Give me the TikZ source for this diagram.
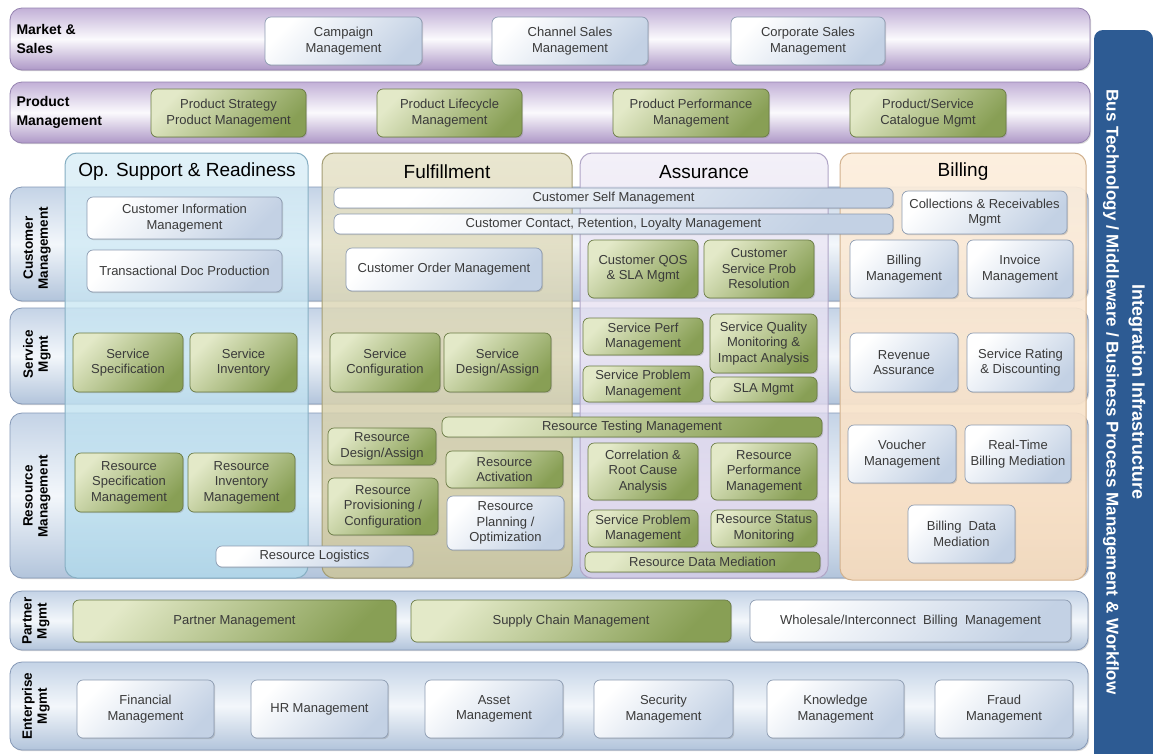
\documentclass[tikz,border=0pt]{standalone}
\usepackage{fontspec}
\setmainfont{Liberation Sans}
\usetikzlibrary{shadows}
\definecolor{txt}{HTML}{3A3A3A}
\definecolor{gL}{HTML}{E3E9C8}
\definecolor{gD}{HTML}{889F55}
\definecolor{gB}{HTML}{6A7B44}
\definecolor{lD}{HTML}{C3D1E4}
\definecolor{lB}{HTML}{8C9BB1}
\definecolor{pT}{HTML}{C2B0D7}
\definecolor{pM}{HTML}{FBFAFD}
\definecolor{pBo}{HTML}{AE98C7}
\definecolor{pB}{HTML}{9583B0}
\definecolor{bT}{HTML}{C4D3E6}
\definecolor{bM}{HTML}{F3F7FB}
\definecolor{bBo}{HTML}{B2C4DB}
\definecolor{bB}{HTML}{8598B6}
\definecolor{opsT}{HTML}{D8EEF7}
\definecolor{opsB}{HTML}{B1DAEC}
\definecolor{opsD}{HTML}{87AFC3}
\definecolor{fulT}{HTML}{E6E2C8}
\definecolor{fulB}{HTML}{CCC59B}
\definecolor{fulD}{HTML}{A39D75}
\definecolor{assT}{HTML}{F0ECF7}
\definecolor{assB}{HTML}{D8CEE9}
\definecolor{assD}{HTML}{B0A5C6}
\definecolor{bilT}{HTML}{FCEEDD}
\definecolor{bilB}{HTML}{F6DBBD}
\definecolor{bilD}{HTML}{D2B28F}
\definecolor{barC}{HTML}{2D5B93}
\newcommand\bx[7]{%
  \node[#6, minimum width={(#4-#2)*1pt}, minimum height={(#5-#3)*1pt}] (#1) at ({(#2+#4)/2},{(#3+#5)/2}) {#7};}
\tikzset{
  shd/.style={drop shadow={opacity=0.3, shadow xshift=1.2pt, shadow yshift=-1.2pt}},
  bxs/.style={rounded corners=6pt, inner sep=1pt, outer sep=0pt, align=center, text=txt,
    font=\fontsize{13}{15.5}\selectfont, line width=0.7pt, shd},
  grn/.style={bxs, draw=gB, top color=gL, bottom color=gD, shading angle=45},
  lt/.style={bxs, draw=lB, top color=white, bottom color=lD, shading angle=45},
  purband/.style={rounded corners=12pt, inner sep=0pt, outer sep=0pt, draw=pB, line width=0.8pt,
    top color=pT, bottom color=pBo, middle color=pM, shd},
  bluband/.style={rounded corners=12pt, inner sep=0pt, outer sep=0pt, draw=bB, line width=0.8pt,
    top color=bT, bottom color=bBo, middle color=bM, shd},
  colbox/.style={rounded corners=12pt, inner sep=0pt, outer sep=0pt, line width=1pt, fill opacity=0.78},
  hdr/.style={font=\fontsize{19}{22}\selectfont, text=black},
  lab/.style={font=\fontsize{13.5}{15}\selectfont\bfseries, align=center, text=black},
  labl/.style={font=\fontsize{14}{19}\selectfont\bfseries, align=left, anchor=west, text=black},
}
\begin{document}
\begin{tikzpicture}[x=1pt,y=-1pt]
\useasboundingbox (0,0) rectangle (1153,753);
\fill[white] (0,0) rectangle (1153,753);
% top bands
\bx{msB}{10}{8}{1090}{70}{purband}{}
\bx{pmB}{10}{82}{1090}{143}{purband}{}
\node[labl] (msl) at (13,39) {Market \&\\Sales};
\node[labl] (pml) at (13,112) {Product\\Management};
\bx{camp}{265}{17}{422}{65}{lt}{Campaign\\Management}
\bx{chan}{492}{17}{648}{65}{lt}{Channel Sales\\Management}
\bx{corp}{731}{17}{885}{65}{lt}{Corporate Sales\\Management}
\bx{pstr}{151}{89}{306}{137}{grn}{Product Strategy\\Product Management}
\bx{plif}{377}{89}{522}{137}{grn}{Product Lifecycle\\Management}
\bx{pperf}{613}{89}{769}{137}{grn}{Product Performance\\Management}
\bx{pcat}{850}{89}{1006}{137}{grn}{Product/Service\\Catalogue Mgmt}
% row bands
\bx{cmB}{10}{187}{1088}{301}{bluband}{}
\bx{smB}{10}{308}{1088}{404}{bluband}{}
\bx{rmB}{10}{413}{1088}{578}{bluband}{}
\bx{ptB}{10}{591}{1088}{650}{bluband}{}
\bx{emB}{10}{662}{1088}{750}{bluband}{}
\node[lab, rotate=90] (cml) at (37,248) {Customer\\Management};
\node[lab, rotate=90] (sml) at (37,354) {Service\\Mgmt};
\node[lab, rotate=90] (rml) at (37,496) {Resource\\Management};
\node[lab, rotate=90] (ptl) at (36,621) {Partner\\Mgmt};
\node[lab, rotate=90] (eml) at (36,706) {Enterprise\\Mgmt};
% columns
\bx{ops}{65}{153}{308}{578}{colbox, draw=opsD, top color=opsT, bottom color=opsB}{}
\bx{ful}{322}{153}{572}{578}{colbox, fill opacity=0.85, draw=fulD, top color=fulT, bottom color=fulB}{}
\bx{ass}{580}{153}{828}{578}{colbox, draw=assD, top color=assT, bottom color=assB}{}
\bx{bil}{840}{153}{1086}{580}{colbox, fill opacity=0.92, draw=bilD, top color=bilT, bottom color=bilB}{}
\node[hdr] (opsh) at (187,172) {Op. Support \& Readiness};
\node[hdr] (fulh) at (447,172) {Fulfillment};
\node[hdr] (assh) at (704,172) {Assurance};
\node[hdr] (bilh) at (963,172) {Billing};
% customer row
\bx{cim}{87}{197}{282}{239}{lt}{Customer Information\\Management}
\bx{tdp}{87}{250}{282}{292}{lt}{Transactional Doc Production}
\bx{csm}{334}{188}{893}{208}{lt}{Customer Self Management}
\bx{ccr}{334}{214}{893}{234}{lt}{Customer Contact, Retention, Loyalty Management}
\bx{com}{346}{248}{542}{291}{lt}{Customer Order Management}
\bx{cqos}{588}{240}{698}{298}{grn}{Customer QOS\\\& SLA Mgmt}
\bx{cspr}{704}{240}{814}{298}{grn}{Customer\\Service Prob\\Resolution}
\bx{cr}{902}{191}{1067}{234}{lt}{Collections \& Receivables\\Mgmt}
\bx{bm}{850}{240}{958}{298}{lt}{Billing\\Management}
\bx{im}{967}{240}{1073}{298}{lt}{Invoice\\Management}
% service row
\bx{ssp}{73}{333}{183}{392}{grn}{Service\\Specification}
\bx{sinv}{190}{333}{297}{392}{grn}{Service\\Inventory}
\bx{scfg}{330}{333}{440}{392}{grn}{Service\\Configuration}
\bx{sdes}{444}{333}{551}{392}{grn}{Service\\Design/Assign}
\bx{spm}{583}{318}{703}{355}{grn}{Service Perf\\Management}
\bx{sqm}{710}{314}{817}{373}{grn}{Service Quality\\Monitoring \&\\Impact Analysis}
\bx{sprm}{583}{366}{703}{402}{grn}{Service Problem\\Management}
\bx{sla}{710}{377}{817}{402}{grn}{SLA Mgmt}
\bx{ra}{850}{333}{958}{392}{lt}{Revenue\\Assurance}
\bx{srd}{967}{333}{1074}{392}{lt}{Service Rating\\\& Discounting}
% resource row
\bx{rtm}{442}{417}{822}{437}{grn}{Resource Testing Management}
\bx{rda}{328}{428}{436}{465}{grn}{Resource\\Design/Assign}
\bx{ract}{446}{451}{563}{488}{grn}{Resource\\Activation}
\bx{rpc}{328}{478}{438}{535}{grn}{Resource\\Provisioning /\\Configuration}
\bx{rpo}{447}{496}{564}{550}{lt}{Resource\\Planning /\\Optimization}
\bx{rsm}{75}{453}{183}{512}{grn}{Resource\\Specification\\Management}
\bx{rim}{188}{453}{295}{512}{grn}{Resource\\Inventory\\Management}
\bx{rlog}{216}{546}{413}{567}{lt}{Resource Logistics}
\bx{crc}{588}{443}{698}{500}{grn}{Correlation \&\\Root Cause\\Analysis}
\bx{rpm}{711}{443}{817}{500}{grn}{Resource\\Performance\\Management}
\bx{sprmb}{588}{510}{698}{547}{grn}{Service Problem\\Management}
\bx{rsmo}{711}{510}{817}{547}{grn}{Resource Status\\Monitoring}
\bx{rdm}{585}{552}{820}{572}{grn}{Resource Data Mediation}
\bx{vm}{848}{425}{956}{483}{lt}{Voucher\\Management}
\bx{rtbm}{965}{425}{1071}{483}{lt}{Real-Time\\Billing Mediation}
\bx{bdm}{908}{505}{1015}{563}{lt}{Billing\ \ Data\\Mediation}
% partner row
\bx{ptm}{73}{600}{396}{642}{grn}{Partner Management}
\bx{scm}{411}{600}{731}{642}{grn}{Supply Chain Management}
\bx{wib}{750}{600}{1071}{642}{lt}{Wholesale/Interconnect\ \ Billing\ \ Management}
% enterprise row
\bx{fin}{77}{680}{214}{738}{lt}{Financial\\Management}
\bx{hr}{251}{680}{388}{738}{lt}{HR Management}
\bx{ast}{425}{680}{563}{738}{lt}{Asset\\Management}
\bx{sec}{594}{680}{733}{738}{lt}{Security\\Management}
\bx{kn}{767}{680}{904}{738}{lt}{Knowledge\\Management}
\bx{fr}{935}{680}{1073}{738}{lt}{Fraud\\Management}
% integration bar
\node[fill=barC, rounded corners=9pt, minimum width=59pt, minimum height=740pt, inner sep=0pt, outer sep=0pt, anchor=north west] (bar) at (1094,30) {};
\node[rotate=-90, text=white, font=\fontsize{18}{20}\selectfont\bfseries] (ii) at (1137,392) {Integration Infrastructure};
\node[rotate=-90, text=white, font=\fontsize{17}{20}\selectfont\bfseries] (bt) at (1111,392) {Bus Technology / Middleware / Business Process Management \& Workflow};
\end{tikzpicture}
\end{document}
